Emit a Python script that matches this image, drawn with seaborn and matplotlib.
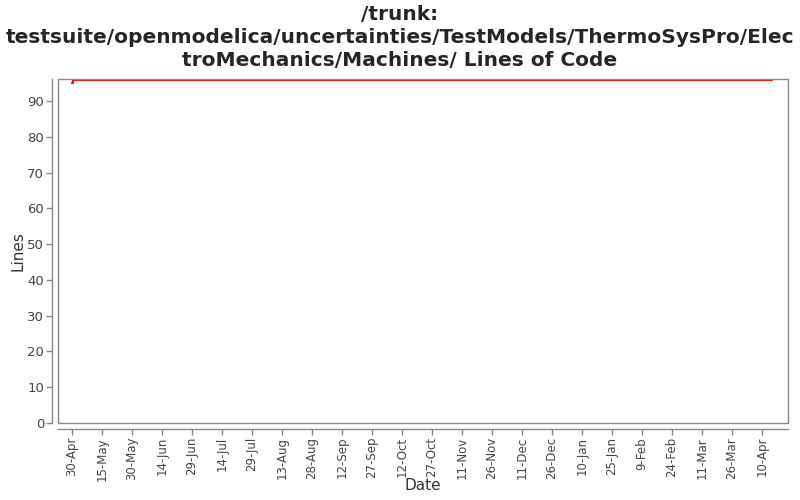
import matplotlib
matplotlib.use("Agg")
import matplotlib.pyplot as plt
import seaborn as sns
import pandas as pd

dates = ["2009-04-30 00:00", "2009-04-30 12:00", "2010-04-15 00:00"]
lines = [95, 96, 96]
tick_labels = ["30-Apr", "15-May", "30-May", "14-Jun", "29-Jun", "14-Jul", "29-Jul",
               "13-Aug", "28-Aug", "12-Sep", "27-Sep", "12-Oct", "27-Oct", "11-Nov",
               "26-Nov", "11-Dec", "26-Dec", "10-Jan", "25-Jan", "9-Feb", "24-Feb",
               "11-Mar", "26-Mar", "10-Apr"]

df = pd.DataFrame({"Date": pd.to_datetime(dates), "Lines": lines})

sns.set_style("white")
plt.rcParams['font.family'] = ['DejaVu Sans']

fig = plt.figure(figsize=(8, 5), dpi=100)
ax = fig.add_axes([0.0725, 0.154, 0.9125, 0.688])

sns.lineplot(data=df, x="Date", y="Lines", ax=ax, color="#ff0000", linewidth=1.5,
             drawstyle="steps-post")

start = pd.Timestamp("2009-04-30")
ticks = [start + pd.Timedelta(days=15 * i) for i in range(len(tick_labels))]
ax.set_xticks(ticks)
ax.set_xticklabels(tick_labels)
ax.set_xlim(start - pd.Timedelta(days=7), start + pd.Timedelta(days=358))
ax.set_ylim(0, 96.2)
ax.set_yticks(range(0, 91, 10))
ax.tick_params(axis="x", labelrotation=90, labelsize=8.5, labelcolor="#444444",
               bottom=True, length=4, width=1, color="#888888", direction="out", pad=2)
ax.tick_params(axis="y", labelsize=9.5, labelcolor="#444444", left=True,
               length=4, width=1, color="#888888", direction="out", pad=2)

for s in ["top", "right"]:
    ax.spines[s].set_visible(False)
for s in ["left", "bottom"]:
    ax.spines[s].set_position(("outward", 4))
    ax.spines[s].set_color("#888888")
    ax.spines[s].set_linewidth(1)

border = plt.Rectangle((0, 0), 1, 1, transform=ax.transAxes, fill=False,
                       edgecolor="#888888", linewidth=1, zorder=5, clip_on=False)
ax.add_patch(border)

ax.set_xlabel("Date", fontsize=11, color="#333333")
ax.set_ylabel("Lines", fontsize=11, color="#333333")
ax.xaxis.set_label_coords(0.5, -0.16)
ax.yaxis.set_label_coords(-0.044, 0.5)

fig.suptitle("/trunk:\ntestsuite/openmodelica/uncertainties/TestModels/ThermoSysPro/Elec\ntroMechanics/Machines/ Lines of Code",
             fontsize=14.5, fontweight="bold", y=0.99, linespacing=1.25)

fig.savefig("out.png", dpi=100)
